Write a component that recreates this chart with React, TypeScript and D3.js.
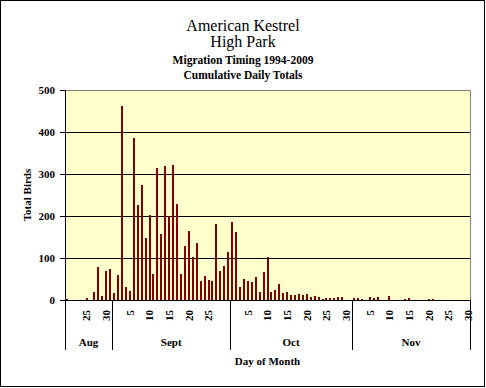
import React, { useRef, useEffect } from 'react';
import * as d3 from 'd3';

const MONTHS = ['Aug', 'Sept', 'Oct', 'Nov'];
const MONTH_START = [20, 1, 1, 1];

// cumulative daily totals, one value per day of each month shown
const AUG_BIRDS = [3, 0, 0, 0, 0, 5, 0, 19, 79, 10, 69, 74];
const SEPT_BIRDS = [17, 60, 462, 31, 21, 386, 226, 274, 148, 202, 62, 314, 157, 319, 200,
    321, 229, 62, 129, 164, 102, 136, 45, 57, 48, 45, 181, 69, 81, 114];
const OCT_BIRDS = [186, 162, 31, 50, 45, 43, 55, 19, 67, 102, 19, 24, 38, 17, 19, 12,
    12, 14, 12, 14, 7, 10, 7, 2, 5, 5, 5, 7, 7, 0, 0];
const NOV_BIRDS = [5, 5, 2, 0, 7, 5, 7, 0, 0, 10, 0, 0, 0, 2, 5, 0, 0, 0, 0, 2,
    2, 0, 0, 0, 0, 0, 0, 0, 0, 0];

const DAY_TICKS = [
    [25, 30],
    [5, 10, 15, 20, 25],
    [5, 10, 15, 20, 25, 30],
    [5, 10, 15, 20, 25, 30],
];
const Y_TICKS = [0, 100, 200, 300, 400, 500];

const TITLES = ['American Kestrel', 'High Park', 'Migration Timing 1994-2009', 'Cumulative Daily Totals'];

const FONT = '"Liberation Serif", "Times New Roman", serif';

interface DayRow {
    key: string;
    month: number;
    day: number;
    birds: number;
}

const App: React.FC = () => {
    const ref = useRef<SVGSVGElement>(null);
    const width = 486;
    const height = 388;
    const plot = { left: 65, right: 470, top: 90, bottom: 300 };

    useEffect(() => {
        if (!ref.current) return;
        const svg = d3.select(ref.current);
        svg.selectAll('*').remove();

        const series = [AUG_BIRDS, SEPT_BIRDS, OCT_BIRDS, NOV_BIRDS];
        const rows: DayRow[] = [];
        series.forEach((vals, m) => {
            vals.forEach((v, i) => {
                const day = MONTH_START[m] + i;
                rows.push({ key: `${m}-${day}`, month: m, day, birds: v });
            });
        });

        const x = d3.scaleBand<string>()
            .domain(rows.map(r => r.key))
            .range([plot.left, plot.right])
            .paddingInner(0.5)
            .paddingOuter(0.25);
        const y = d3.scaleLinear().domain([0, 500]).range([plot.bottom, plot.top]);
        const center = (k: string) => (x(k) ?? 0) + x.bandwidth() / 2;
        const barW = Math.max(1, Math.round(x.bandwidth()));

        // outer frame
        svg.append('rect')
            .attr('x', 0.5).attr('y', 0.5)
            .attr('width', width - 2).attr('height', height - 2)
            .attr('fill', '#fff').attr('stroke', '#000');

        // titles
        const titleY = [31, 47, 64, 79];
        svg.selectAll('.title')
            .data(TITLES)
            .join('text')
            .attr('class', 'title')
            .attr('x', 243)
            .attr('y', (d, i) => titleY[i])
            .attr('text-anchor', 'middle')
            .style('font-family', FONT)
            .style('font-size', (d, i) => (i < 2 ? '16px' : '11.5px'))
            .style('font-weight', (d, i) => (i < 2 ? 'normal' : 'bold'))
            .text(d => d);

        // plot background
        svg.append('rect')
            .attr('x', plot.left).attr('y', plot.top)
            .attr('width', plot.right - plot.left).attr('height', plot.bottom - plot.top)
            .attr('fill', '#FFFFCC');

        // gridlines
        svg.selectAll('.grid')
            .data(Y_TICKS.filter(t => t > 0 && t < 500))
            .join('line')
            .attr('class', 'grid')
            .attr('x1', plot.left).attr('x2', plot.right)
            .attr('y1', d => Math.round(y(d)) + 0.5).attr('y2', d => Math.round(y(d)) + 0.5)
            .attr('stroke', '#000');

        // top/right frame of the plot
        svg.append('path')
            .attr('d', `M${plot.left},${plot.top + 0.5}H${plot.right + 0.5}V${plot.bottom}`)
            .attr('fill', 'none').attr('stroke', '#808080');

        // bars
        svg.selectAll('.bar')
            .data(rows.filter(r => r.birds > 0))
            .join('rect')
            .attr('class', 'bar')
            .attr('x', d => Math.round(center(d.key) - barW / 2))
            .attr('width', barW)
            .attr('y', d => Math.round(y(d.birds)))
            .attr('height', d => plot.bottom - Math.round(y(d.birds)))
            .attr('fill', '#800000')
            .attr('shape-rendering', 'crispEdges');

        // y axis
        const yAxis = svg.append('g');
        yAxis.append('line')
            .attr('x1', plot.left + 0.5).attr('x2', plot.left + 0.5)
            .attr('y1', plot.top).attr('y2', plot.bottom)
            .attr('stroke', '#000');
        yAxis.selectAll('.ytick')
            .data(Y_TICKS)
            .join('line')
            .attr('class', 'ytick')
            .attr('x1', plot.left - 5).attr('x2', plot.left)
            .attr('y1', d => Math.round(y(d)) + 0.5).attr('y2', d => Math.round(y(d)) + 0.5)
            .attr('stroke', '#000');
        yAxis.selectAll('.ylabel')
            .data(Y_TICKS)
            .join('text')
            .attr('class', 'ylabel')
            .attr('x', 55)
            .attr('y', d => y(d))
            .attr('dy', '0.35em')
            .attr('text-anchor', 'end')
            .style('font-family', FONT)
            .style('font-size', '11px')
            .style('font-weight', 'bold')
            .text(d => d);

        svg.append('text')
            .attr('transform', `translate(31, ${(plot.top + plot.bottom) / 2}) rotate(-90)`)
            .attr('text-anchor', 'middle')
            .style('font-family', FONT)
            .style('font-size', '11px')
            .style('font-weight', 'bold')
            .text('Total Birds');

        // x axis
        svg.append('line')
            .attr('x1', plot.left - 5).attr('x2', plot.right + 1)
            .attr('y1', plot.bottom + 0.5).attr('y2', plot.bottom + 0.5)
            .attr('stroke', '#000');

        // month separators
        const monthStarts = MONTHS.map((m, i) => rows.find(r => r.month === i)!.key);
        const bounds = monthStarts.map(k => center(k) - x.step() / 2);
        bounds.push(plot.right);
        svg.selectAll('.sep')
            .data(bounds)
            .join('line')
            .attr('class', 'sep')
            .attr('x1', d => Math.round(d) + 0.5).attr('x2', d => Math.round(d) + 0.5)
            .attr('y1', plot.bottom).attr('y2', 350)
            .attr('stroke', '#000');

        // day labels
        const dayTicks = DAY_TICKS.flatMap((days, m) => days.map(d => ({ key: `${m}-${d}`, day: d })));
        svg.selectAll('.xlabel')
            .data(dayTicks)
            .join('text')
            .attr('class', 'xlabel')
            .attr('transform', d => `translate(${center(d.key)}, 310) rotate(-90)`)
            .attr('dy', '0.35em')
            .attr('text-anchor', 'end')
            .style('font-family', FONT)
            .style('font-size', '11px')
            .style('font-weight', 'bold')
            .text(d => d.day);

        // month labels
        svg.selectAll('.month')
            .data(MONTHS)
            .join('text')
            .attr('class', 'month')
            .attr('x', (d, i) => (bounds[i] + bounds[i + 1]) / 2)
            .attr('y', 346)
            .attr('text-anchor', 'middle')
            .style('font-family', FONT)
            .style('font-size', '11px')
            .style('font-weight', 'bold')
            .text(d => d);

        svg.append('text')
            .attr('x', (plot.left + plot.right) / 2)
            .attr('y', 365)
            .attr('text-anchor', 'middle')
            .style('font-family', FONT)
            .style('font-size', '11px')
            .style('font-weight', 'bold')
            .text('Day of Month');
    }, []);

    return (
        <svg ref={ref} width={width} height={height}
            style={{ position: 'absolute', left: 0, top: 0, display: 'block' }}></svg>
    );
};

export default App;
